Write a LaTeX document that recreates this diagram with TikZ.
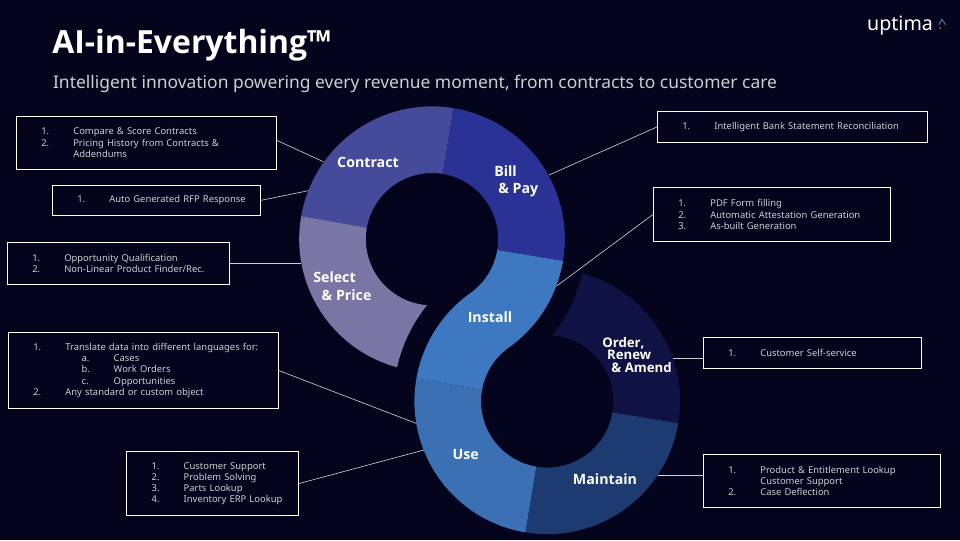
\documentclass[tikz,border=0pt]{standalone}
\usepackage{fontspec}
\setmainfont{Noto Sans}
\newfontfamily\upbold{Open Sans}
\usepackage{tikz}
\usetikzlibrary{positioning}
\usepackage{xcolor}
\definecolor{upbg}{RGB}{4,4,28}
\definecolor{upcontract}{RGB}{69,74,155}
\definecolor{upbill}{RGB}{43,50,149}
\definecolor{upselect}{RGB}{121,118,166}
\definecolor{upinstall}{RGB}{62,120,192}
\definecolor{upuse}{RGB}{59,112,180}
\definecolor{upmaintain}{RGB}{29,59,112}
\definecolor{uporder}{RGB}{17,18,68}
\definecolor{uptext}{RGB}{205,205,212}
\definecolor{uporange}{RGB}{200,100,40}
\definecolor{upteal}{RGB}{74,160,205}
\tikzstyle{listbox} = [rectangle, draw=white, line width=0.6pt, inner xsep=0pt, inner ysep=0pt, text=uptext, align=left, font=\fontsize{6.7}{7.95}\selectfont]
\tikzstyle{link} = [line width=0.45pt, color=uptext]
\tikzstyle{seglabel} = [inner sep=0pt, text=white, align=left, font=\upbold\bfseries\fontsize{10.1}{12.4}\selectfont]
\newcommand{\ro}{3.32}
\newcommand{\ri}{1.654}
\newcommand{\lstline}[3]{\hspace*{#1}\makebox[0.8cm][l]{#2}#3}
\newcommand{\ringseg}[4]{\fill[#1] ([shift={(#3:\ro)}]#2) arc[start angle=#3,end angle=#4,radius=\ro] -- ([shift={(#4:\ri)}]#2) arc[start angle=#4,end angle=#3,radius=\ri] -- cycle;}
\begin{document}
\begin{tikzpicture}
\fill[upbg] (0,0) rectangle (24,13.5);
\useasboundingbox (0,0) rectangle (24,13.5);
\coordinate (topc) at (10.80,7.52);
\coordinate (botc) at (13.68,3.465);

\ringseg{upcontract}{topc}{80.6}{170}
\ringseg{upbill}{topc}{-9.4}{80.6}
\ringseg{upuse}{botc}{170}{260.6}
\ringseg{upmaintain}{botc}{260.6}{350.6}
\fill[upselect] ([shift={(170:\ro)}]topc) arc[start angle=170,end angle=254.73,radius=\ro] arc[start angle=167.2,end angle=141.3,radius=3.85] arc[start angle=265.7,end angle=170,radius=\ri] -- cycle;
\fill[uporder] ([shift={(-9.4:\ro)}]botc) arc[start angle=-9.4,end angle=74.73,radius=\ro] arc[start angle=-12.8,end angle=-38.7,radius=3.85] arc[start angle=85.7,end angle=-9.4,radius=\ri] -- cycle;
\fill[upinstall] ([shift={(-9.4:\ro)}]topc) arc[start angle=-9.4,end angle=-54.62,radius=\ro] arc[start angle=125.38,end angle=170,radius=\ri] -- ([shift={(170:\ro)}]botc) arc[start angle=170,end angle=125.38,radius=\ro] arc[start angle=-54.62,end angle=-9.4,radius=\ri] -- cycle;

\node[anchor=base west, inner sep=0pt, text=white, font=\upbold\bfseries\fontsize{22.7}{27}\selectfont] (title) at (1.3,12.17) {AI-in-Everything™};
\node[anchor=base west, inner sep=0pt, text=uptext, font=\fontsize{12.4}{15}\selectfont] (subtitle) at (1.32,11.29) {Intelligent innovation powering every revenue moment, from contracts to customer care};
\node[anchor=base west, inner sep=0pt, text=white, font=\fontsize{14}{16}\selectfont] (logo) at (21.67,12.73) {uptima};
\draw[color=upteal, line width=0.5pt] (23.47,12.88) -- (23.55,13.02) -- (23.64,12.88);
\fill[uporange] (23.5,12.8) circle (0.025);

\node[seglabel] (contract) at (9.2,9.45) {Contract};
\node[seglabel, anchor=west] (billpay) at (12.35,8.9625) {Bill\\\hspace*{0.1cm}\& Pay};
\node[seglabel, anchor=west] (selectprice) at (7.825,6.35) {Select\\\hspace*{0.21cm}\& Price};
\node[seglabel] (install) at (12.25,5.575) {Install};
\node[seglabel, anchor=west, font=\upbold\bfseries\fontsize{9.4}{9.2}\selectfont] (order) at (15.05,4.625) {Order,\\\hspace*{0.12cm}Renew\\\hspace*{0.23cm}\& Amend};
\node[seglabel] (use) at (11.64,2.15) {Use};
\node[seglabel] (maintain) at (15.125,1.525) {Maintain};

\node[listbox, text width=6.51cm, minimum height=1.325cm] (contractbox) at (3.6625,9.93) {\lstline{0.625cm}{1.}{Compare \& Score Contracts}\\\lstline{0.625cm}{2.}{Pricing History from Contracts \&}\\\lstline{0.625cm}{}{Addendums}};
\node[listbox, text width=5.21cm, minimum height=0.75cm] (rfpbox) at (3.9125,8.4925) {\lstline{0.625cm}{1.}{Auto Generated RFP Response}};
\node[listbox, text width=5.56cm, minimum height=1.05cm] (oppbox) at (2.9625,6.9175) {\lstline{0.625cm}{1.}{Opportunity Qualification}\\\lstline{0.625cm}{2.}{Non-Linear Product Finder/Rec.}};
\node[listbox, text width=6.75cm, minimum height=1.89cm] (transbox) at (3.5825,4.2375) {\lstline{0.625cm}{1.}{Translate data into different languages for:}\\\lstline{1.835cm}{a.}{Cases}\\\lstline{1.835cm}{b.}{Work Orders}\\\lstline{1.835cm}{c.}{Opportunities}\\\lstline{0.625cm}{2.}{Any standard or custom object}};
\node[listbox, text width=4.3cm, minimum height=1.59cm] (custbox) at (5.3175,1.4125) {\lstline{0.625cm}{1.}{Customer Support}\\\lstline{0.625cm}{2.}{Problem Solving}\\\lstline{0.625cm}{3.}{Parts Lookup}\\\lstline{0.625cm}{4.}{Inventory ERP Lookup}};
\node[listbox, text width=6.76cm, minimum height=0.765cm] (bankbox) at (19.8125,10.325) {\lstline{0.625cm}{1.}{Intelligent Bank Statement Reconciliation}};
\node[listbox, text width=5.935cm, minimum height=1.34cm] (pdfbox) at (19.3,8.1375) {\lstline{0.625cm}{1.}{PDF Form filling}\\\lstline{0.625cm}{2.}{Automatic Attestation Generation}\\\lstline{0.625cm}{3.}{As-built Generation}};
\node[listbox, text width=5.46cm, minimum height=0.765cm] (selfbox) at (20.3125,4.675) {\lstline{0.625cm}{1.}{Customer Self-service}};
\node[listbox, text width=5.935cm, minimum height=1.315cm] (prodbox) at (20.55,1.475) {\lstline{0.625cm}{1.}{Product \& Entitlement Lookup}\\\lstline{0.625cm}{}{Customer Support}\\\lstline{0.625cm}{2.}{Case Deflection}};

\coordinate (contractend) at (8.0825,9.4575);
\coordinate (rfpend) at (7.7075,8.7325);
\coordinate (oppend) at (7.5175,6.9175);
\coordinate (transend) at (10.4,2.9175);
\coordinate (custend) at (10.6,2.25);
\coordinate (bankend) at (13.725,9.125);
\coordinate (pdfend) at (13.9175,6.35);
\coordinate (selfend) at (16.8325,4.5425);
\coordinate (prodend) at (16.4575,1.6175);

\draw[link] (contractbox.1.5) -- (contractend);
\draw[link] (rfpbox.east) -- (rfpend);
\draw[link] (oppbox.east) -- (oppend);
\draw[link] (transbox.east) -- (transend);
\draw[link] (custbox.east) -- (custend);
\draw[link] (bankbox.west) -- (bankend);
\draw[link] (pdfbox.west) -- (pdfend);
\draw[link] (selfbox.west |- selfend) -- (selfend);
\draw[link] (prodbox.west |- prodend) -- (prodend);
\end{tikzpicture}
\end{document}
